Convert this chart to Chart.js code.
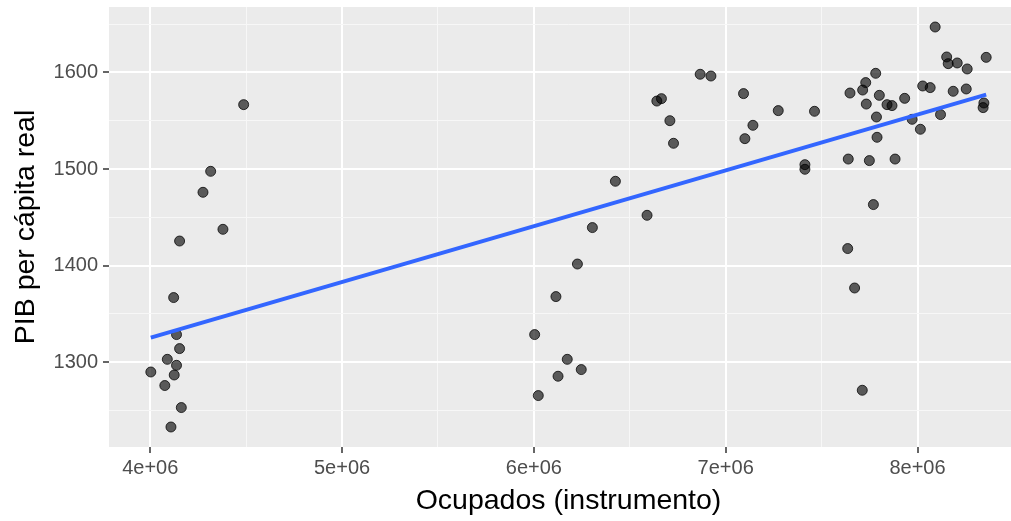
<!DOCTYPE html>
<html>
<head>
<meta charset="utf-8">
<script src="https://cdn.jsdelivr.net/npm/chart.js@4"></script>
<style>
    html, body { margin: 0; padding: 0; background: #ffffff; overflow: hidden; }
    #frame { width: 1011px; height: 521px; overflow: hidden; position: relative; }
    #wrap { width: 1034px; height: 521px; position: absolute; left: 0; top: 0; }
</style>
</head>
<body>
<div id="frame"><div id="wrap"><canvas id="scatterChart"></canvas></div></div>
<script>
// Ocupados (instrumento), in millions
const ocupados = [
    4.487, 4.315, 4.275, 4.379, 4.153, 4.122, 4.137, 4.153, 4.089, 4.137,
    4.003, 4.125, 4.076, 4.162, 4.108,
    6.867, 6.923, 7.093, 6.641, 6.665, 6.709, 6.728, 7.274, 7.142, 7.100,
    6.425, 6.590, 6.305, 6.227, 6.115, 6.004, 6.174, 6.247, 6.126, 6.023,
    8.092, 8.358, 8.152, 8.160, 8.207, 8.259, 7.782, 7.730, 7.714, 7.648,
    7.801, 8.027, 8.066, 8.186, 8.254, 7.933, 7.733, 7.841, 7.867, 7.463,
    8.346, 8.342, 7.786, 7.972, 8.120, 8.015, 7.789, 7.413, 7.413, 7.639,
    7.749, 7.883, 7.770, 7.636, 7.672, 7.712
];
// PIB per cápita real
const pibPerCapita = [
    1566.6, 1497.6, 1475.9, 1437.6, 1425.5, 1367.0, 1328.7, 1314.2, 1303.1, 1296.9,
    1290.0, 1286.9, 1276.0, 1253.2, 1233.1,
    1598.0, 1596.2, 1578.0, 1570.3, 1572.8, 1550.0, 1526.6, 1560.4, 1545.2, 1531.4,
    1487.3, 1452.1, 1439.4, 1401.7, 1368.0, 1328.7, 1303.1, 1292.5, 1285.6, 1265.6,
    1646.9, 1615.5, 1615.9, 1609.0, 1609.7, 1603.5, 1599.0, 1589.4, 1581.7, 1578.6,
    1576.2, 1585.9, 1584.2, 1580.4, 1582.8, 1573.1, 1567.2, 1566.6, 1565.6, 1559.7,
    1568.3, 1563.5, 1553.8, 1551.4, 1556.3, 1541.1, 1532.8, 1504.5, 1499.7, 1510.3,
    1508.7, 1510.3, 1463.2, 1417.7, 1376.9, 1271.1
];
// fitted line (lm) end points
const fitX = [4.003, 8.358];
const fitY = [1325.6, 1577.0];

// tick positions (x in millions)
const xTicks = [4, 5, 6, 7, 8];
const xMinor = [4.5, 5.5, 6.5, 7.5, 8.5];
const yTicks = [1300, 1400, 1500, 1600];
const yMinor = [1250, 1350, 1450, 1550, 1650];

let scatterChart;

document.addEventListener('DOMContentLoaded', () => {
    renderChart();
});

function isMajor(list, value) {
    return list.some(v => Math.abs(v - value) < 1e-6);
}

// grey ggplot panel behind the grid
const panelBackground = {
    id: 'panelBackground',
    beforeDraw(chart) {
        const { ctx, chartArea } = chart;
        ctx.save();
        ctx.fillStyle = '#EBEBEB';
        ctx.fillRect(chartArea.left, chartArea.top, chartArea.right - chartArea.left, chartArea.bottom - chartArea.top);
        ctx.restore();
    }
};

function renderChart() {
    const ctx = document.getElementById('scatterChart').getContext('2d');
    const points = ocupados.map((x, i) => ({ x: x * 1e6, y: pibPerCapita[i] }));
    const fitLine = fitX.map((x, i) => ({ x: x * 1e6, y: fitY[i] }));

    const gridColor = (list, scale) => (c) => isMajor(list, c.tick.value / scale) ? '#FFFFFF' : '#F7F7F7';
    const gridWidth = (list, scale) => (c) => isMajor(list, c.tick.value / scale) ? 2 : 1;
    const tickColor = (list, scale) => (c) => isMajor(list, c.tick.value / scale) ? '#333333' : 'rgba(0,0,0,0)';

    // fixed scale box, no extra label padding round the panel
    const fixBox = (prop, size) => (scale) => {
        scale[prop] = size;
        scale.paddingTop = 0;
        scale.paddingBottom = 0;
        scale.paddingLeft = 0;
        scale.paddingRight = 0;
    };

    scatterChart = new Chart(ctx, {
        type: 'scatter',
        data: {
            datasets: [{
                type: 'line',
                data: fitLine,
                borderColor: '#3366FF',
                borderWidth: 4,
                pointRadius: 0,
                fill: false,
                order: 0
            }, {
                type: 'scatter',
                data: points,
                backgroundColor: 'rgba(0,0,0,0.62)',
                borderColor: 'rgba(0,0,0,0.75)',
                borderWidth: 1,
                pointRadius: 5,
                order: 1
            }]
        },
        options: {
            responsive: true,
            maintainAspectRatio: false,
            animation: false,
            layout: { padding: { top: 7, right: 0, bottom: 0, left: 0 } },
            plugins: {
                legend: { display: false },
                tooltip: { enabled: false }
            },
            scales: {
                x: {
                    type: 'linear',
                    min: 3.785e6,
                    max: 8.576e6,
                    border: { display: false },
                    afterBuildTicks: (scale) => {
                        scale.ticks = xTicks.concat(xMinor).sort((a, b) => a - b).map(v => ({ value: v * 1e6 }));
                    },
                    grid: {
                        color: gridColor(xTicks, 1e6),
                        lineWidth: gridWidth(xTicks, 1e6),
                        tickColor: tickColor(xTicks, 1e6),
                        tickWidth: 1.5,
                        tickLength: 6
                    },
                    ticks: {
                        autoSkip: false,
                        maxRotation: 0,
                        padding: 3,
                        color: '#4D4D4D',
                        font: { family: 'Liberation Sans', size: 20 },
                        callback: (v) => isMajor(xTicks, v / 1e6) ? `${Math.round(v / 1e6)}e+06` : ''
                    },
                    title: {
                        display: true,
                        text: 'Ocupados (instrumento)',
                        color: '#000000',
                        font: { family: 'Liberation Sans', size: 28.5 },
                        padding: { top: 0, bottom: 3 }
                    },
                    afterFit: fixBox('height', 74)
                },
                y: {
                    type: 'linear',
                    min: 1212.4,
                    max: 1667.6,
                    border: { display: false },
                    afterBuildTicks: (scale) => {
                        scale.ticks = yTicks.concat(yMinor).sort((a, b) => a - b).map(v => ({ value: v }));
                    },
                    grid: {
                        color: gridColor(yTicks, 1),
                        lineWidth: gridWidth(yTicks, 1),
                        tickColor: tickColor(yTicks, 1),
                        tickWidth: 1.5,
                        tickLength: 6
                    },
                    ticks: {
                        autoSkip: false,
                        padding: 5,
                        color: '#4D4D4D',
                        font: { family: 'Liberation Sans', size: 20 },
                        callback: (v) => isMajor(yTicks, v) ? String(v) : ''
                    },
                    title: {
                        display: true,
                        text: 'PIB per cápita real',
                        color: '#000000',
                        font: { family: 'Liberation Sans', size: 28.5 },
                        padding: { top: 9, bottom: 0 }
                    },
                    afterFit: fixBox('width', 109)
                }
            }
        },
        plugins: [panelBackground]
    });
}
</script>
</body>
</html>
